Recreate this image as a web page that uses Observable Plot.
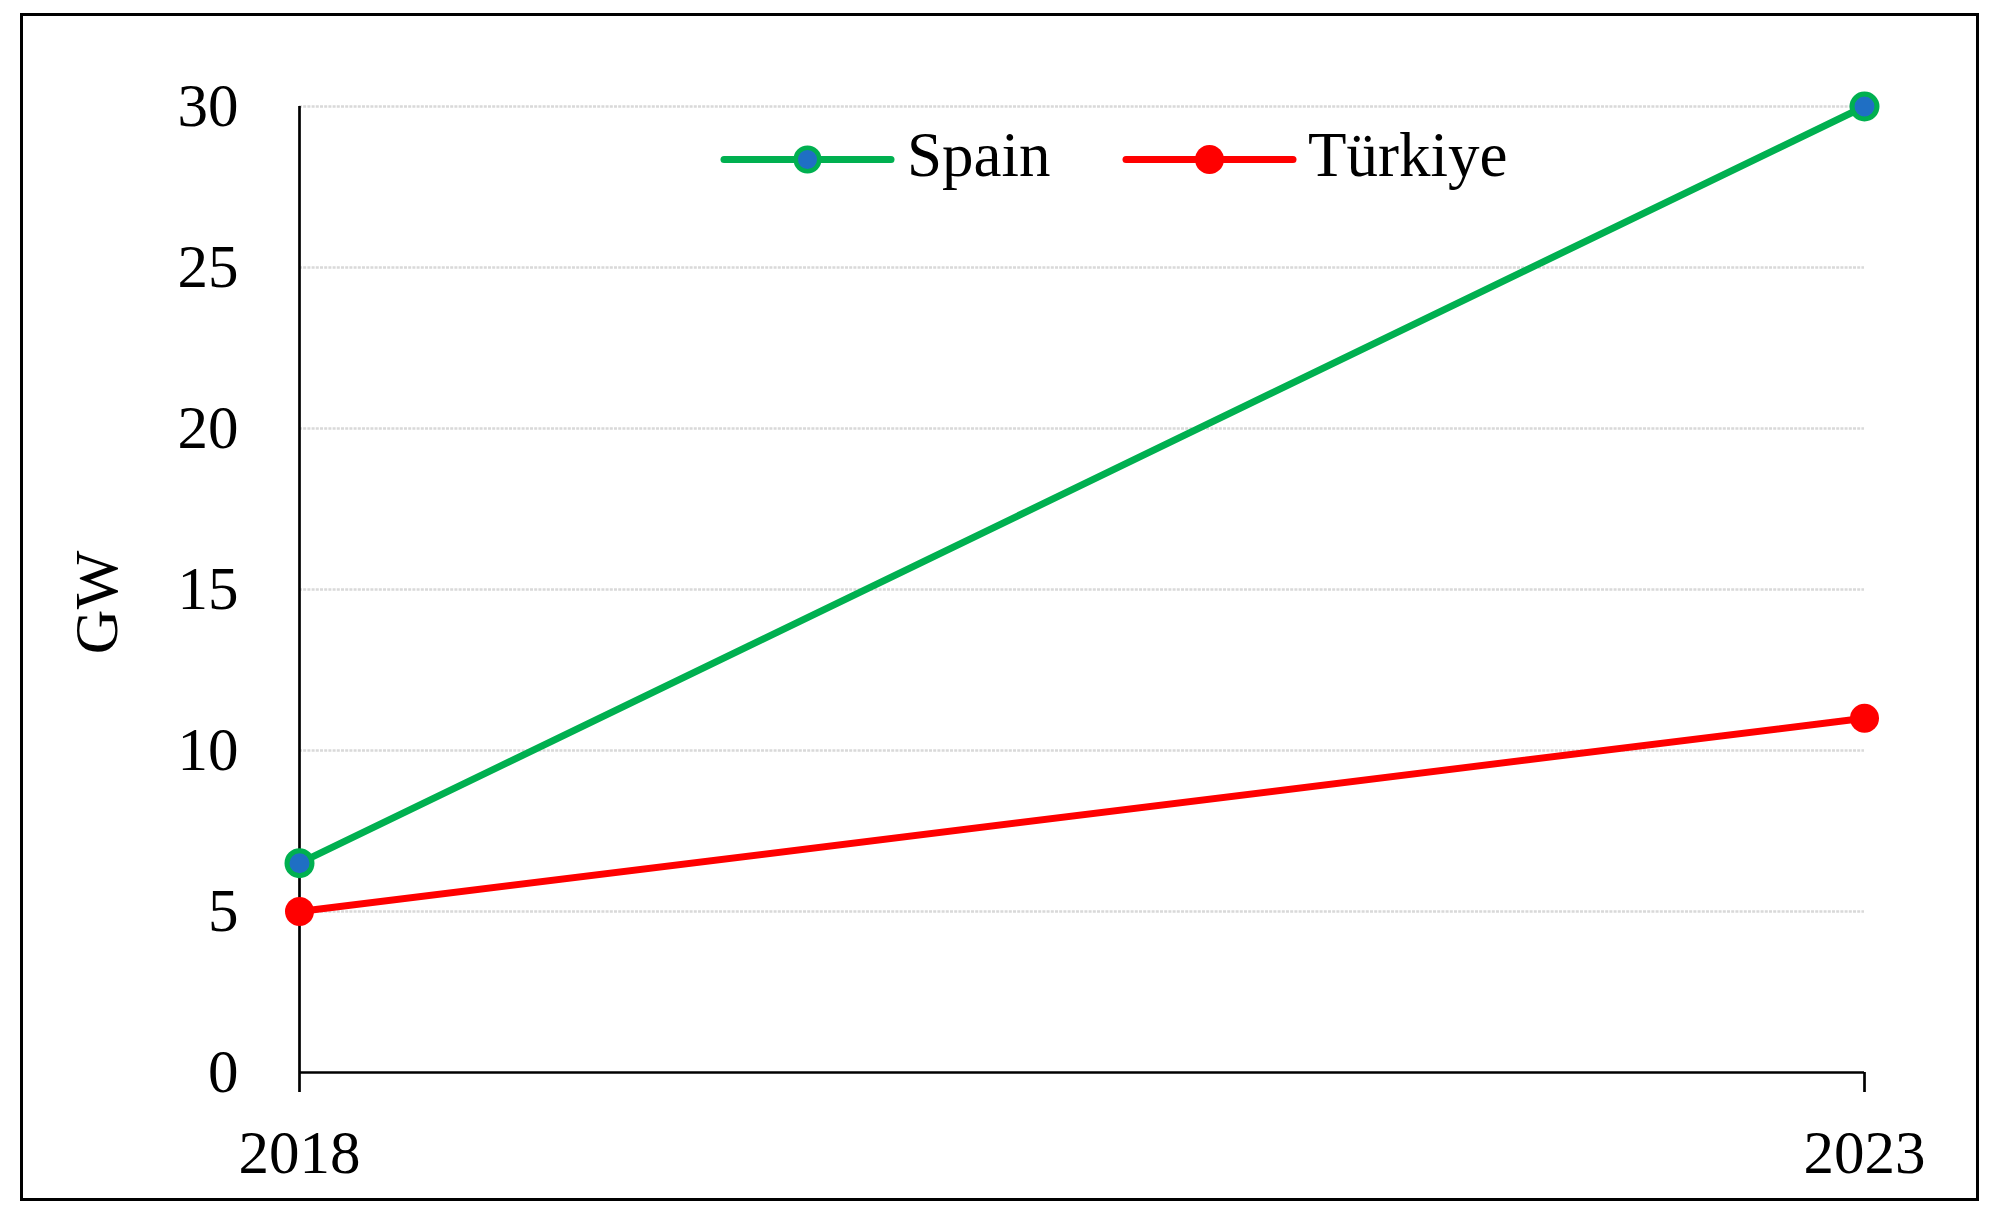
<!DOCTYPE html>
<html>
<head>
<meta charset="utf-8">
<script src="https://cdn.jsdelivr.net/npm/d3@7"></script>
<script src="https://cdn.jsdelivr.net/npm/@observablehq/plot@0.6"></script>
<style>
html, body { margin: 0; padding: 0; background: #fff; }
#wrap { position: relative; width: 1994px; height: 1223px; overflow: hidden; background: #fff; }
#frame { position: absolute; left: 20px; top: 13px; width: 1959px; height: 1188px; border: 3px solid #000; box-sizing: border-box; pointer-events: none; }
#chart { position: absolute; left: 0; top: 0; }
.leg { position: absolute; font-family: 'Liberation Serif', serif; font-size: 63px; line-height: 63px; color: #000; white-space: nowrap; }
.sw { position: absolute; }
</style>
</head>
<body>
<div id="wrap">
  <div id="chart"></div>
  <div id="frame"></div>
  <div id="legend"></div>
</div>
<script>
// ---- data ----
const years = ["2018", "2023"];
const seriesNames = ["Spain", "Türkiye"];
const spainValues = [6.5, 30];
const turkiyeValues = [5, 11];
const yTicks = [0, 5, 10, 15, 20, 25, 30];
const yLabel = "GW";

// ---- styles ----
const green = "#00b050";
const blue = "#1f6fc4";
const red = "#ff0000";
const font = "'Liberation Serif', serif";

const rows = [];
years.forEach((y, i) => rows.push({ year: y, value: spainValues[i], series: seriesNames[0] }));
years.forEach((y, i) => rows.push({ year: y, value: turkiyeValues[i], series: seriesNames[1] }));

const chart = Plot.plot({
  width: 1994,
  height: 1223,
  marginLeft: 299,
  marginRight: 130,
  marginTop: 106,
  marginBottom: 151,
  style: { fontFamily: font, fontSize: "61px", background: "transparent", overflow: "visible", color: "#000" },
  x: { type: "point", domain: years, padding: 0 },
  y: { domain: [0, 30] },
  color: { domain: seriesNames, range: [green, red] },
  marks: [
    Plot.gridY(yTicks.filter(d => d > 0), { stroke: "#d9d9d9", strokeOpacity: 1, strokeWidth: 2.5, strokeDasharray: "3,1.2" }),
    Plot.axisY(yTicks, { tickSize: 0, tickPadding: 61, fontSize: 61, label: null }),
    Plot.axisX(years, { tickSize: 20, tickPadding: 37, stroke: "#000", strokeWidth: 2.7, fontSize: 61, label: null }),
    Plot.ruleY([0], { stroke: "#000", strokeWidth: 2.7 }),
    Plot.ruleX([years[0]], { stroke: "#000", strokeWidth: 2.7 }),
    Plot.line(rows, { x: "year", y: "value", z: "series", stroke: "series", strokeWidth: 7 }),
    Plot.dot(rows.filter(d => d.series === seriesNames[0]), { x: "year", y: "value", fill: blue, stroke: green, strokeWidth: 5, r: 12.5 }),
    Plot.dot(rows.filter(d => d.series === seriesNames[1]), { x: "year", y: "value", fill: red, r: 14.5 }),
    Plot.text([yLabel], { frameAnchor: "left", textAnchor: "middle", dx: -202, dy: 13, rotate: -90, fontSize: 62 })
  ]
});
document.getElementById("chart").appendChild(chart);

// ---- legend ----
const legend = document.getElementById("legend");
const legItems = [
  { name: seriesNames[0], line: green, fill: blue, stroke: green, swLeft: 714, textLeft: 907 },
  { name: seriesNames[1], line: red, fill: red, stroke: "none", swLeft: 1116, textLeft: 1308 }
];
legItems.forEach(it => {
  const sw = document.createElementNS("http://www.w3.org/2000/svg", "svg");
  sw.setAttribute("width", 188);
  sw.setAttribute("height", 40);
  sw.setAttribute("class", "sw");
  sw.style.left = it.swLeft + "px";
  sw.style.top = "140px";
  const isPlain = it.stroke === "none";
  sw.innerHTML = `<line x1="10" x2="177" y1="19.5" y2="19.5" stroke="${it.line}" stroke-width="7" stroke-linecap="round"/>` +
    `<circle cx="93.5" cy="19.5" r="${isPlain ? 14.5 : 11.8}" fill="${it.fill}" stroke="${it.stroke}" stroke-width="${isPlain ? 0 : 4.5}"/>`;
  legend.appendChild(sw);
  const t = document.createElement("div");
  t.className = "leg";
  t.textContent = it.name;
  t.style.left = it.textLeft + "px";
  t.style.top = "124px";
  legend.appendChild(t);
});
</script>
</body>
</html>
